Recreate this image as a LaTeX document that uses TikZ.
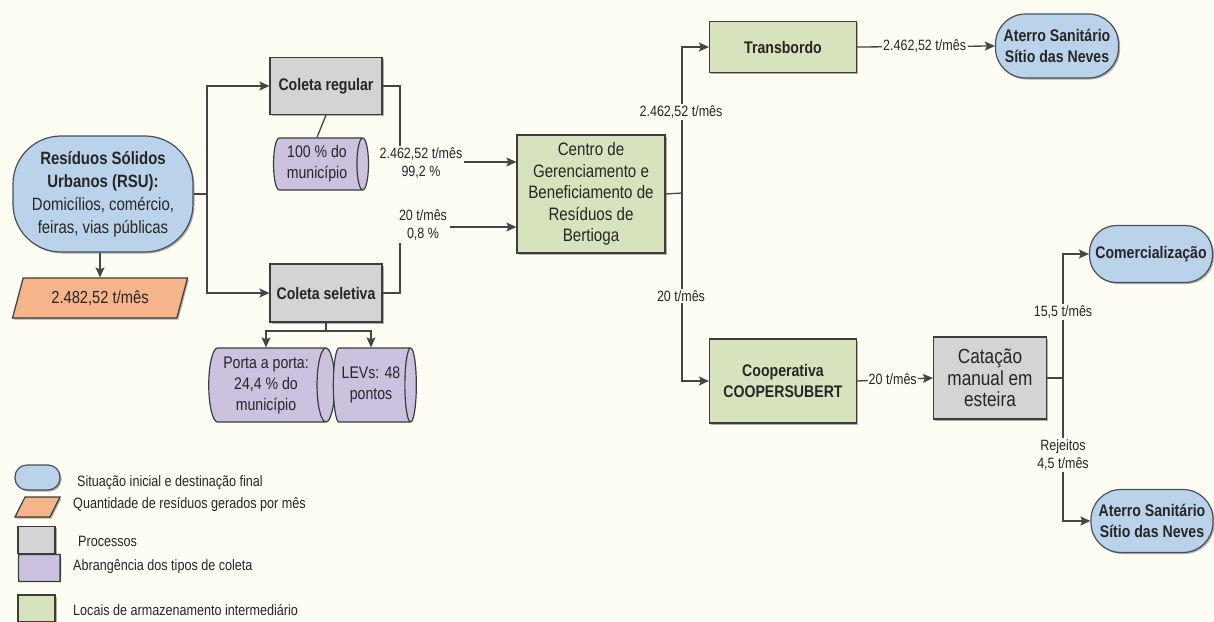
\documentclass[tikz,border=0pt]{standalone}
\usepackage{fontspec}
\setmainfont[FakeStretch=0.84]{Liberation Sans}
\usetikzlibrary{shapes.geometric,shapes.misc,arrows.meta,shadows}
\definecolor{bg}{HTML}{FDFDF3}
\definecolor{blueF}{HTML}{BBD3EA}
\definecolor{termB}{HTML}{46505A}
\definecolor{orangeF}{HTML}{F5B48A}
\definecolor{grayF}{HTML}{D4D4D4}
\definecolor{purpleF}{HTML}{CCC1DF}
\definecolor{greenF}{HTML}{D7E3BC}
\definecolor{bordC}{HTML}{3C3C3C}
\definecolor{lineC}{HTML}{454545}
\definecolor{txt}{HTML}{262626}
\newcommand\fsz[2]{\fontsize{#1}{#2}\selectfont}
\tikzset{
  base/.style={draw=bordC, line width=1.2pt, align=center, inner sep=1pt, text=txt},
  shad/.style={drop shadow={shadow xshift=1.5pt, shadow yshift=-1.5pt, opacity=0.3, fill=black}},
  term/.style={base, shad, rectangle, rounded corners=#1, fill=blueF, draw=termB},
  proc/.style={base, shad, rectangle, fill=grayF},
  store/.style={base, shad, rectangle, fill=greenF},
  qty/.style={base, shad, trapezium, trapezium left angle=68, trapezium right angle=112,
    trapezium stretches=true, fill=orangeF},
  cyl/.style={base, cylinder, shape aspect=0.3, cylinder uses custom fill,
    cylinder body fill=purpleF, cylinder end fill=purpleF},
  lbl/.style={fill=bg, inner sep=1.5pt, align=center, font=\fsz{14.9}{18}, text=txt},
  flow/.style={draw=lineC, line width=1.3pt},
  arr/.style={flow, -{Stealth[length=10pt,width=9pt,inset=2pt]}},
  legtxt/.style={anchor=west, inner sep=0pt, font=\fsz{15}{18}, text=txt},
  bnode/.style={font=\bfseries\fsz{16.8}{21}},
  rnode/.style={font=\fsz{16.8}{21}}
}
\begin{document}
\begin{tikzpicture}[x=1pt,y=-1pt]
\fill[bg] (0,0) rectangle (1214,621);
\useasboundingbox (0,0) rectangle (1214,621);

% nodes
\node[term=48pt, minimum width=180pt, minimum height=116pt, font=\fsz{17.8}{23}] (rsu) at (103,194)
  {\textbf{Resíduos Sólidos}\\\textbf{Urbanos (RSU):}\\Domicílios, comércio,\\feiras, vias públicas};
\node[qty, minimum width=175pt, minimum height=40pt, font=\fsz{17.5}{21}] (qty) at (100,298) {2.482,52 t/mês};
\node[proc, bnode, minimum width=112pt, minimum height=57pt] (creg) at (326,86) {Coleta regular};
\node[proc, bnode, minimum width=112pt, minimum height=58pt] (csel) at (326,293) {Coleta seletiva};
\node[cyl, rnode, minimum height=95pt, minimum width=52pt] (c100) at (317,164) {100 \% do\\município};
\node[cyl, rnode, minimum height=126pt, minimum width=74pt] (porta) at (266,385) {Porta a porta:\\24,4 \% do\\município};
\node[cyl, rnode, minimum height=83pt, minimum width=74pt] (levs) at (371,385) {LEVs: 48\\pontos};
\node[store, minimum width=148pt, minimum height=118pt, font=\fsz{18}{21.5}] (centro) at (591,194)
  {Centro de\\Gerenciamento e\\Beneficiamento de\\Resíduos de\\Bertioga};
\node[store, bnode, minimum width=147pt, minimum height=51pt] (transb) at (783,47) {Transbordo};
\node[term=30pt, bnode, minimum width=123pt, minimum height=64pt] (at1) at (1057,46) {Aterro Sanitário\\Sítio das Neves};
\node[store, bnode, minimum width=147pt, minimum height=84pt] (coop) at (783,381) {Cooperativa\\COOPERSUBERT};
\node[proc, minimum width=113pt, minimum height=82pt, font=\fsz{20.5}{21.5}] (cat) at (990,378) {Catação\\manual em\\esteira};
\node[term=27pt, bnode, minimum width=123pt, minimum height=57pt] (com) at (1151,254) {Comercialização};
\node[term=30pt, bnode, minimum width=122pt, minimum height=63pt] (at2) at (1152,521) {Aterro Sanitário\\Sítio das Neves};

% junctions
\coordinate (j1) at (207,194);
\coordinate (j2) at (326,331);
\coordinate (k1) at (400,162);
\coordinate (k2) at (400,227);
\coordinate (j3) at (682,193);
\coordinate (j4) at (1063,378);

% connectors
\draw[flow] (rsu.east) -- (j1);
\draw[arr] (j1) |- (creg.west);
\draw[arr] (j1) |- (csel.west);
\draw[arr] (rsu.south -| qty.north) -- (qty.north);
\draw[flow] (creg.south) -- (c100.north);
\draw[flow] (csel.south) -- (j2);
\draw[arr] (j2) -| (porta.north);
\draw[arr] (j2) -| (levs.north);
\draw[arr] (creg.east) -| (k1) -- (k1 -| centro.west);
\node[lbl] (l1) at (421,163) {2.462,52 t/mês\\99,2 \%};
\draw[arr] (csel.east) -| (k2) -- (k2 -| centro.west);
\node[lbl, inner sep=3pt] (l2) at (423,225) {20 t/mês\\0,8 \%};
\draw[flow] (centro.east) -- (j3);
\draw[arr] (j3) |- (transb.west);
\draw[arr] (j3) |- (coop.west);
\node[lbl] (l3) at (681,112) {2.462,52 t/mês};
\node[lbl] (l4) at (681,296) {20 t/mês};
\draw[arr] (transb.east) -- (at1.west) node[lbl, pos=0.49] (l5) {2.462,52 t/mês};
\draw[arr] (coop.east) -- (cat.west) node[lbl, inner sep=1pt, pos=0.47] (l6) {20 t/mês};
\draw[flow] (cat.east) -- (j4);
\draw[arr] (j4) |- (com.west);
\draw[arr] (j4) |- (at2.west);
\node[lbl] (l7) at (1063,312) {15,5 t/mês};
\node[lbl] (l8) at (1063,455) {Rejeitos\\4,5 t/mês};

% legend
\node[term=12pt, minimum width=45pt, minimum height=25pt] (lg1) at (37.5,477.5) {};
\node[qty, minimum width=45pt, minimum height=20pt] (lg2) at (37.5,507) {};
\node[proc, minimum width=37pt, minimum height=27pt] (lg3) at (36.5,540) {};
\node[cyl, minimum height=42pt, minimum width=27pt] (lg4) at (39,568) {};
\node[store, minimum width=37pt, minimum height=27pt] (lg5) at (36.5,608.5) {};
\node[legtxt] (lt1) at (77,483) {Situação inicial e destinação final};
\node[legtxt] (lt2) at (73,505) {Quantidade de resíduos gerados por mês};
\node[legtxt] (lt3) at (78,541) {Processos};
\node[legtxt] (lt4) at (73,567) {Abrangência dos tipos de coleta};
\node[legtxt] (lt5) at (73,610) {Locais de armazenamento intermediário};
\end{tikzpicture}
\end{document}
